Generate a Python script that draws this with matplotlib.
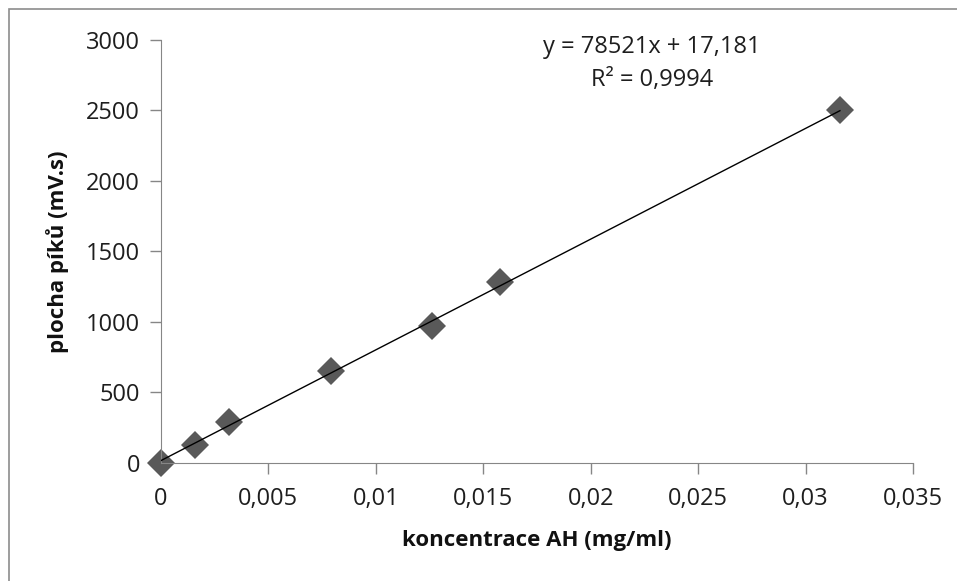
import matplotlib.pyplot as plt
from matplotlib.patches import Rectangle
from matplotlib.ticker import FuncFormatter, MultipleLocator

plt.rcParams['font.family'] = ['Open Sans', 'DejaVu Sans']

koncentrace = [0, 0.00158, 0.00316, 0.0079, 0.0126, 0.0158, 0.0316]
plocha = [0, 128, 291, 652, 972, 1284, 2505]
slope = 78521
intercept = 17.181
r2_text = '0,9994'

fig = plt.figure(figsize=(9.57, 5.81), dpi=100)
ax = fig.add_axes([0.1682, 0.2031, 0.7858, 0.7281])

# ramecek kolem grafu
fig.patches.append(Rectangle((9 / 957, -0.1), 1.2, 1 - 9 / 581 + 0.1,
                             transform=fig.transFigure, fill=False,
                             edgecolor='#8c8c8c', linewidth=1.2))

ax.plot(koncentrace, plocha, 'D', color='#595959', markersize=14,
        markeredgewidth=0, zorder=2, clip_on=False)
xs = [koncentrace[0], koncentrace[-1]]
ax.plot(xs, [slope * x + intercept for x in xs], color='black',
        linewidth=1, zorder=3)

ax.set_xlim(0, 0.035)
ax.set_ylim(0, 3000)
ax.xaxis.set_major_locator(MultipleLocator(0.005))
ax.yaxis.set_major_locator(MultipleLocator(500))


def fmt(v, pos):
    s = ('%.3f' % v).rstrip('0').rstrip('.')
    return s.replace('.', ',')


ax.xaxis.set_major_formatter(FuncFormatter(fmt))

for s in ['top', 'right']:
    ax.spines[s].set_visible(False)
for s in ['left', 'bottom']:
    ax.spines[s].set_color('#868686')
ax.tick_params(colors='#868686', labelcolor='#1e1e1e', labelsize=17,
               length=8, width=1)
ax.tick_params(axis='x', pad=9)
ax.tick_params(axis='y', pad=7)

ax.set_xlabel('koncentrace AH (mg/ml)', fontsize=16, fontweight='bold',
              labelpad=14, color='#111111')
ax.set_ylabel('plocha píků (mV.s)', fontsize=16, fontweight='bold',
              labelpad=12, color='#111111')

ax.text(0.02285, 2950, 'y = 78521x + 17,181', fontsize=17, ha='center',
        va='center', color='#1e1e1e')
ax.text(0.02285, 2716, 'R² = ' + r2_text, fontsize=17, ha='center',
        va='center', color='#1e1e1e')

fig.savefig('out.png', dpi=100)
